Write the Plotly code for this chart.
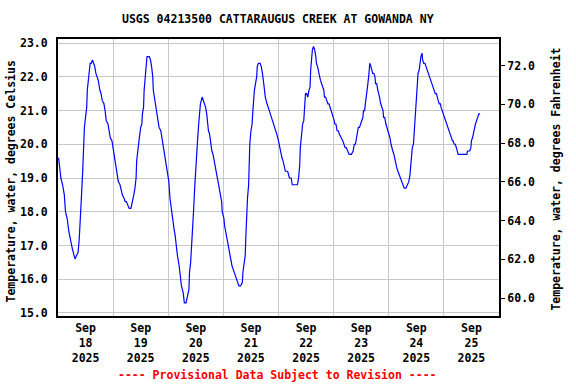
import pandas as pd
import plotly.graph_objects as go

# Hours after 2025-09-18 00:00 (local) and water temperature in deg C
hours = [0.25, 0.75, 1.25, 2.0, 2.75, 3.25, 4.0, 4.75, 5.5, 6.25, 7.0, 7.5, 8.0, 8.75, 9.25, 9.5, 9.75,
         10.25, 10.75, 11.0, 11.5, 12.0, 12.5, 12.75, 13.25, 13.75, 14.0, 14.5, 15.0, 15.5, 16.0, 16.5,
         17.0, 17.5, 18.25, 18.75, 19.25, 20.0, 20.5, 21.0, 21.75, 22.25, 22.75, 23.5, 24.0, 24.5, 25.25,
         25.75, 26.25, 27.0, 27.5, 28.0, 28.75, 29.25, 29.75, 30.5, 31.0, 31.75, 32.5, 33.0, 33.5, 34.0,
         34.25, 34.75, 35.25, 36.0, 36.5, 36.75, 37.25, 37.5, 38.0, 38.25, 38.75, 39.75, 40.25, 40.75,
         41.25, 41.5, 42.0, 42.25, 43.0, 43.5, 44.0, 44.75, 45.25, 45.75, 46.5, 47.0, 47.5, 48.25, 48.75,
         49.25, 50.0, 50.5, 51.0, 51.5, 52.0, 52.75, 53.25, 53.75, 54.5, 55.0, 55.75, 56.25, 57.0, 57.25,
         57.75, 58.25, 58.5, 59.0, 59.5, 60.0, 60.25, 60.75, 61.25, 61.75, 62.0, 62.75, 63.25, 64.0, 64.25,
         64.75, 65.25, 65.5, 66.0, 66.5, 67.0, 67.5, 68.0, 68.5, 69.0, 69.5, 69.75, 70.25, 70.75, 71.25,
         71.5, 72.25, 72.5, 73.0, 73.5, 74.0, 74.25, 74.75, 75.25, 75.75, 76.25, 76.75, 77.0, 77.5, 78.0,
         78.75, 79.5, 80.25, 80.5, 81.0, 81.5, 81.75, 82.0, 82.5, 83.0, 83.25, 83.5, 84.0, 84.5, 84.75,
         85.0, 85.5, 86.0, 86.5, 86.75, 87.25, 88.0, 88.5, 89.0, 89.25, 89.75, 90.25, 90.5, 91.0, 91.5,
         92.0, 92.5, 93.0, 93.5, 94.0, 94.75, 95.25, 96.0, 96.5, 97.0, 97.5, 98.0, 98.25, 99.0, 100.0,
         100.75, 101.5, 102.0, 103.25, 104.25, 104.75, 105.25, 105.5, 106.0, 106.5, 107.0, 107.25, 107.75,
         108.25, 108.75, 109.25, 109.75, 110.0, 110.5, 110.75, 111.25, 111.75, 112.25, 112.5, 113.0, 113.5,
         114.0, 114.25, 114.75, 115.25, 115.75, 116.0, 116.5, 117.0, 117.5, 118.0, 118.5, 118.75, 119.25,
         119.75, 120.25, 120.5, 121.0, 121.5, 122.0, 122.5, 123.0, 123.25, 124.0, 124.5, 125.0, 125.5,
         126.0, 126.75, 127.75, 128.25, 128.5, 129.0, 129.5, 130.0, 130.25, 130.5, 130.75, 131.25, 131.75,
         132.25, 132.75, 133.0, 133.5, 134.0, 134.5, 134.75, 135.25, 135.5, 135.75, 136.25, 136.5, 137.0,
         137.5, 138.0, 138.25, 138.75, 139.25, 139.75, 140.0, 140.5, 141.0, 141.5, 141.75, 142.25, 142.75,
         143.25, 143.5, 144.0, 144.5, 145.0, 145.25, 145.75, 146.25, 146.75, 147.0, 147.5, 148.0, 148.5,
         149.0, 149.5, 149.75, 150.25, 150.75, 151.5, 152.25, 152.75, 153.25, 153.5, 154.0, 154.25, 154.75,
         155.0, 155.25, 155.75, 156.0, 156.5, 156.75, 157.25, 157.5, 158.0, 158.5, 158.75, 159.25, 159.75,
         160.25, 160.75, 161.25, 161.5, 162.0, 162.5, 163.0, 163.25, 163.75, 164.25, 164.75, 165.0, 165.5,
         166.0, 166.5, 166.75, 167.25, 167.75, 168.25, 168.5, 169.0, 169.5, 170.0, 170.25, 170.75, 171.25,
         171.75, 172.0, 172.5, 173.0, 173.5, 173.75, 174.25, 174.75, 176.5, 178.0, 178.25, 179.25, 179.75,
         180.0, 180.5, 181.0, 181.5, 181.75, 182.25, 182.75, 183.25, 183.75]

temp_c = [19.6, 19.3, 19.0, 18.8, 18.5, 18.0, 17.8, 17.4, 17.1, 16.9, 16.7, 16.6, 16.7, 16.8, 17.2, 17.6, 18.2,
          18.5, 19.2, 19.8, 20.5, 20.8, 21.1, 21.6, 22.0, 22.2, 22.4, 22.4, 22.5, 22.4, 22.3, 22.1,
          22.0, 21.9, 21.6, 21.5, 21.3, 21.2, 21.0, 20.7, 20.6, 20.4, 20.2, 20.1, 19.9, 19.7, 19.4,
          19.2, 18.9, 18.8, 18.6, 18.5, 18.4, 18.3, 18.3, 18.2, 18.1, 18.1, 18.3, 18.5, 18.7, 19.0,
          19.5, 19.9, 20.1, 20.5, 20.6, 20.9, 21.1, 21.6, 22.1, 22.4, 22.6, 22.6, 22.5, 22.3,
          22.0, 21.6, 21.4, 21.2, 20.9, 20.7, 20.5, 20.4, 20.2, 19.9, 19.7, 19.4, 19.2, 18.9, 18.4,
          18.1, 17.8, 17.5, 17.3, 16.9, 16.7, 16.4, 16.1, 15.8, 15.6, 15.3, 15.3, 15.5, 15.7, 16.2,
          16.5, 17.1, 17.6, 18.0, 18.7, 19.3, 19.8, 20.1, 20.6, 20.9, 21.2, 21.4, 21.3, 21.2, 21.1,
          20.9, 20.6, 20.4, 20.3, 20.0, 19.8, 19.7, 19.5, 19.3, 19.2, 19.0, 18.9, 18.6, 18.5, 18.3,
          18.0, 17.8, 17.6, 17.4, 17.2, 17.0, 16.9, 16.7, 16.6, 16.4, 16.3, 16.2, 16.1, 16.0, 15.9,
          15.8, 15.8, 15.9, 16.2, 16.4, 16.7, 17.2, 17.9, 18.4, 18.8, 19.5, 20.0, 20.4, 20.6, 20.9,
          21.3, 21.6, 21.8, 22.0, 22.3, 22.4, 22.4, 22.3, 22.1, 21.9, 21.7, 21.4, 21.3, 21.2, 21.1,
          21.0, 20.9, 20.8, 20.7, 20.6, 20.4, 20.3, 20.1, 19.9, 19.8, 19.6, 19.5, 19.4, 19.2, 19.2,
          19.0, 19.0, 18.8, 18.8, 18.8, 19.0, 19.4, 19.9, 20.3, 20.6, 20.7, 21.1, 21.5,
          21.5, 21.4, 21.6, 21.7, 22.2, 22.6, 22.8, 22.9, 22.8, 22.6, 22.4, 22.3, 22.1,
          22.0, 21.9, 21.8, 21.7, 21.6, 21.4, 21.4, 21.3, 21.2, 21.2, 21.1, 21.0, 20.9,
          20.8, 20.7, 20.6, 20.6, 20.4, 20.4, 20.3, 20.2, 20.2, 20.1, 20.0, 19.9, 19.9,
          19.8, 19.7, 19.7, 19.8, 19.8, 20.0, 20.0, 20.2, 20.3, 20.5, 20.5, 20.5, 20.6,
          20.7, 20.8, 21.0, 21.0, 21.3, 21.5, 21.7, 22.0, 22.3, 22.4, 22.3, 22.2, 22.1,
          22.1, 22.0, 21.8, 21.8, 21.6, 21.5, 21.4, 21.2, 21.1, 21.0, 20.8, 20.8, 20.6,
          20.5, 20.4, 20.3, 20.2, 20.0, 19.9, 19.8, 19.7, 19.5, 19.4, 19.3, 19.2, 19.1,
          19.0, 18.9, 18.9, 18.8, 18.7, 18.7, 18.8, 18.9, 19.1, 19.3, 19.6, 19.9, 20.0,
          20.3, 20.5, 20.9, 21.4, 21.8, 22.1, 22.2, 22.4, 22.6, 22.7, 22.5, 22.4, 22.4,
          22.3, 22.2, 22.1, 22.0, 21.9, 21.8, 21.7, 21.7, 21.6, 21.5, 21.5, 21.4, 21.3,
          21.2, 21.2, 21.1, 21.0, 20.9, 20.8, 20.7, 20.6, 20.5, 20.4, 20.4, 20.3, 20.2,
          20.1, 20.1, 20.0, 20.0, 19.9, 19.8, 19.7, 19.7, 19.7, 19.7, 19.8, 19.8, 19.9,
          20.1, 20.2, 20.4, 20.5, 20.6, 20.7, 20.8, 20.9, 20.9]

day_dates = ["2025-09-18", "2025-09-19", "2025-09-20", "2025-09-21",
             "2025-09-22", "2025-09-23", "2025-09-24", "2025-09-25"]
day_labels = ["Sep<br>18<br>2025", "Sep<br>19<br>2025", "Sep<br>20<br>2025", "Sep<br>21<br>2025",
              "Sep<br>22<br>2025", "Sep<br>23<br>2025", "Sep<br>24<br>2025", "Sep<br>25<br>2025"]
c_ticks = [15, 16, 17, 18, 19, 20, 21, 22, 23]
f_ticks = [60, 62, 64, 66, 68, 70, 72]

title = "USGS 04213500 CATTARAUGUS CREEK AT GOWANDA NY"
ylab_left = "Temperature, water, degrees Celsius"
ylab_right = "Temperature, water, degrees Fahrenheit"
footnote = "---- Provisional Data Subject to Revision ----"

t0 = pd.Timestamp("2025-09-18 00:00")
times = [t0 + pd.Timedelta(hours=h) for h in hours]
temp_f = [c * 1.8 + 32 for c in temp_c]
label_pos = [pd.Timestamp(d) + pd.Timedelta(hours=12) for d in day_dates]
midnights = [pd.Timestamp(d) for d in day_dates[1:]]

FONT = "DejaVu Sans Mono"
fnt = dict(family=FONT, size=11.5, color="black", weight="bold")

fig = go.Figure()
fig.add_trace(go.Scatter(x=times, y=temp_c, mode="lines",
                         line=dict(color="#0000ff", width=1.2), showlegend=False))
# invisible companion trace so the Fahrenheit axis is drawn
fig.add_trace(go.Scatter(x=times, y=temp_f, mode="lines", yaxis="y2", opacity=0,
                         line=dict(width=0), hoverinfo="skip", showlegend=False))

grid = "#c8c8c8"
fig.update_layout(
    width=576, height=384,
    margin=dict(l=58, r=77, t=39, b=68),
    paper_bgcolor="white", plot_bgcolor="white",
    font=fnt,
    showlegend=False,
    xaxis=dict(type="date", range=[pd.Timestamp("2025-09-18"), pd.Timestamp("2025-09-26")],
               tickmode="array", tickvals=label_pos, ticktext=day_labels,
               showgrid=False, ticks="", tickfont=fnt,
               showline=True, linecolor="black", linewidth=2, mirror=True,
               minor=dict(tickmode="array", tickvals=midnights, showgrid=True,
                          gridcolor=grid, gridwidth=1, ticks=""),
               fixedrange=True),
    yaxis=dict(range=[14.91, 23.12], tickmode="array", tickvals=c_ticks,
               ticktext=[f"{v:.1f}" for v in c_ticks], tickfont=fnt,
               showgrid=True, gridcolor=grid, gridwidth=1, zeroline=False,
               ticks="", ticklabelstandoff=6,
               showline=True, linecolor="black", linewidth=2, mirror=True),
    yaxis2=dict(range=[59.07, 73.38], overlaying="y", side="right",
                tickmode="array", tickvals=f_ticks,
                ticktext=[f"{v:.1f}" for v in f_ticks], tickfont=fnt,
                showgrid=False, zeroline=False, ticks="outside", ticklen=4,
                tickcolor="black", tickwidth=1,
                showline=True, linecolor="black", linewidth=2),
)

fig.add_annotation(text=title, xref="paper", yref="paper", x=0.499, y=1.071,
                   showarrow=False, font=fnt, xanchor="center", yanchor="middle")
fig.add_annotation(text=ylab_left, xref="paper", yref="paper", x=-0.1057, y=0.487,
                   showarrow=False, font=fnt, textangle=-90, xanchor="center", yanchor="middle")
fig.add_annotation(text=ylab_right, xref="paper", yref="paper", x=1.1286, y=0.495,
                   showarrow=False, font=fnt, textangle=-90, xanchor="center", yanchor="middle")
fig.add_annotation(text=footnote, xref="paper", yref="paper", x=0.497, y=-0.2127,
                   showarrow=False, font=dict(family=FONT, size=11.5, color="#ff0000", weight="bold"),
                   xanchor="center", yanchor="middle")

fig.write_html("out.html",
               config={"displayModeBar": False, "staticPlot": True},
               post_script="document.body.style.margin='0px';document.body.style.padding='0px';"
                           "document.body.style.overflow='hidden';")
